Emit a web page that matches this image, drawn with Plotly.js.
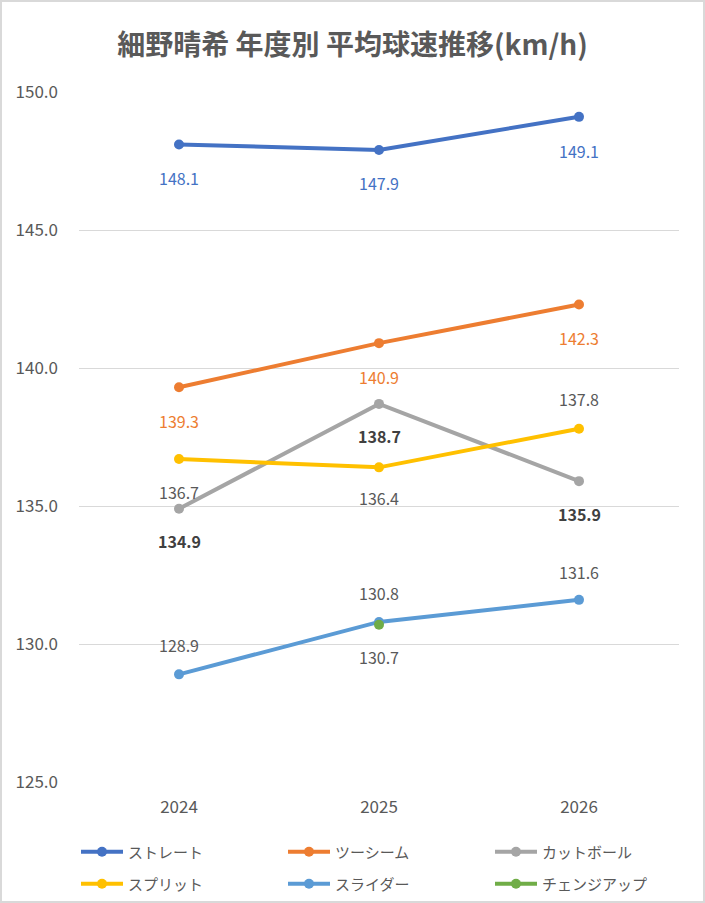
<!DOCTYPE html>
<html>
<head>
<meta charset="utf-8">
<script src="https://cdn.plot.ly/plotly-3.0.1.min.js"></script>
<style>
  html, body { margin:0; padding:0; background:#fff; }
  #wrap { position:relative; width:705px; height:903px; }
  #chart { width:705px; height:903px; }
  #frame { position:absolute; left:0; top:0; width:705px; height:903px; box-sizing:border-box; border:2px solid #d9d9d9; pointer-events:none; }
</style>
</head>
<body>
<div id="wrap"><div id="chart"></div><div id="frame"></div></div>
<script>
// ---- data ----
const years = ['2024', '2025', '2026'];
const straight = [148.1, 147.9, 149.1];
const twoSeam  = [139.3, 140.9, 142.3];
const cutter   = [134.9, 138.7, 135.9];
const split    = [136.7, 136.4, 137.8];
const slider   = [128.9, 130.8, 131.6];
const changeup = [null, 130.7, null];
const seriesNames = ['ストレート', 'ツーシーム', 'カットボール', 'スプリット', 'スライダー', 'チェンジアップ'];
const yTickVals = [125, 130, 135, 140, 145, 150];
const titleText = '細野晴希 年度別 平均球速推移(km/h)';

// ---- styles ----
const FONT = '"Noto Sans CJK JP", "Noto Sans", sans-serif';
const seriesValues = [straight, twoSeam, cutter, split, slider, changeup];
const colors = ['#4472C4', '#ED7D31', '#A5A5A5', '#FFC000', '#5B9BD5', '#70AD47'];
const labelColors = ['#4472C4', '#ED7D31', '#404040', '#595959', '#595959', '#595959'];
const labelWeights = ['normal', 'normal', 'bold', 'normal', 'normal', 'normal'];
const labelShift = [
  [-34, -33, -34],
  [-34, -34, -33],
  [-32, -32, -33],
  [-33, -31, 30],
  [29, 29, 28],
  [0, -32, 0]
];
const legendOf = ['legend', 'legend', 'legend', 'legend2', 'legend2', 'legend2'];

const traces = seriesValues.map((vals, i) => ({
  type: 'scatter',
  mode: 'lines+markers',
  name: seriesNames[i],
  x: years,
  y: vals,
  legend: legendOf[i],
  line: { color: colors[i], width: 4 },
  marker: { color: colors[i], size: 10 },
  hoverinfo: 'skip'
}));

const annotations = [];
seriesValues.forEach((vals, i) => {
  vals.forEach((v, j) => {
    if (v === null) return;
    annotations.push({
      x: j, y: v, xref: 'x', yref: 'y',
      text: v.toFixed(1), showarrow: false,
      yshift: labelShift[i][j],
      font: { family: FONT, size: 16, color: labelColors[i], weight: labelWeights[i] }
    });
  });
});

const legendCommon = {
  orientation: 'h', xanchor: 'left', yanchor: 'middle',
  itemwidth: 42,
  entrywidth: 150, entrywidthmode: 'pixels',
  font: { family: FONT, size: 15, color: '#595959' },
  bgcolor: 'rgba(0,0,0,0)', traceorder: 'normal'
};

const layout = {
  width: 705, height: 903,
  paper_bgcolor: '#ffffff', plot_bgcolor: '#ffffff',
  margin: { l: 79, r: 26, t: 92, b: 121, autoexpand: false },
  title: {
    text: titleText, x: 0.5, xanchor: 'center', y: 1 - 45 / 903, yanchor: 'middle',
    font: { family: FONT, size: 28, color: '#595959', weight: 'bold' }
  },
  xaxis: {
    type: 'category', range: [-0.5, 2.5], showgrid: false, zeroline: false,
    showline: false, ticks: '',
    tickfont: { family: FONT, size: 17, color: '#595959' }, ticklabelstandoff: 13
  },
  yaxis: {
    range: [125, 150], tickvals: yTickVals, tickformat: '.1f',
    showgrid: true, gridcolor: '#d9d9d9', gridwidth: 1, zeroline: false, showline: false,
    tickfont: { family: FONT, size: 17, color: '#595959' }, ticks: '', ticklabelstandoff: 20
  },
  showlegend: true,
  legend: Object.assign({}, legendCommon, { x: -0.005, y: (782 - 852) / 690 }),
  legend2: Object.assign({}, legendCommon, { x: -0.005, y: (782 - 884) / 690 }),
  annotations: annotations
};

Plotly.newPlot('chart', traces, layout, { displayModeBar: false, staticPlot: true });
</script>
</body>
</html>
